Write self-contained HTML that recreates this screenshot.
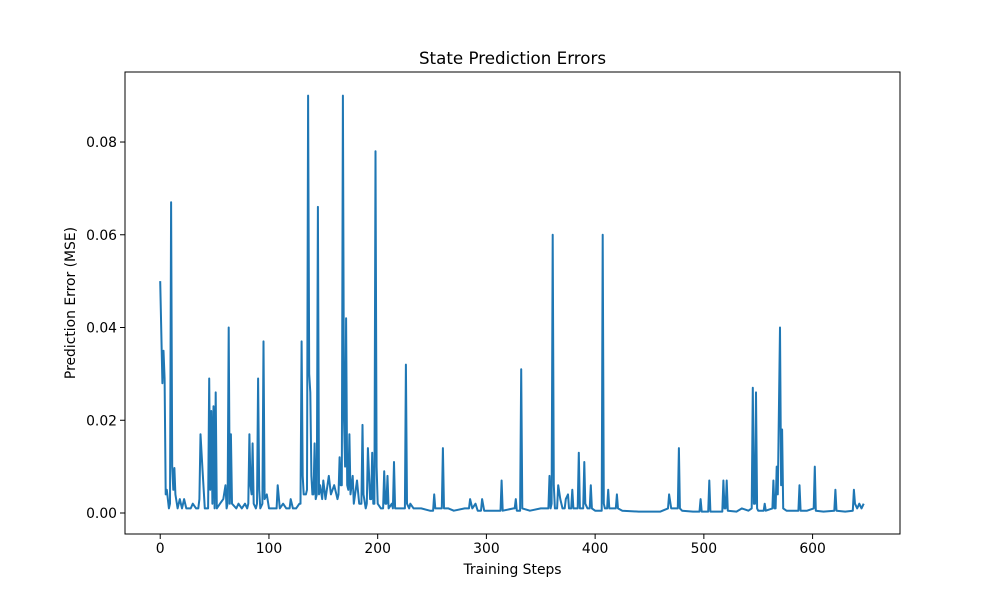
<!DOCTYPE html>
<html><head><meta charset="utf-8"><style>
body{margin:0;background:#fff;}
text{font-family:"DejaVu Sans","Liberation Sans",sans-serif;fill:#000;}
</style></head><body>
<svg id="chart" width="1000" height="600" xmlns="http://www.w3.org/2000/svg">
<rect width="1000" height="600" fill="#fff"/>
<g id="plot"></g>
</svg>
<script>
const steps=[0,2,3,4,5,6,8,9,10,11,12,13,14,16,18,20,22,24,28,30,33,35,36,37,39,41,44,45,46,47,48,49,50,51,52,55,58,60,61,62,63,64,65,66,70,72,75,78,80,81,82,83,84,85,86,88,89,90,91,92,94,95,96,98,100,104,107,108,110,113,116,119,120,122,125,128,129,130,131,132,134,135,136,137,138,139,140,141,142,143,144,145,146,147,149,150,152,155,157,160,163,164,165,166,167,168,169,170,171,172,173,174,175,177,178,181,183,185,186,187,189,190,191,193,194,195,196,197,198,199,200,203,205,206,207,208,209,210,213,214,215,216,218,225,226,227,229,230,233,240,248,251,252,253,257,259,260,261,265,270,280,284,285,287,290,292,295,296,298,310,313,314,315,325,326,327,328,331,332,333,340,350,357,358,359,360,361,362,363,365,366,368,370,372,373,375,376,378,379,380,384,385,386,389,390,391,393,395,396,397,400,406,407,408,409,411,412,413,418,419,420,421,425,440,460,467,468,470,476,477,478,480,490,496,497,498,504,505,506,517,518,519,520,521,522,530,535,541,544,545,546,547,548,549,550,555,556,557,563,564,565,566,567,568,570,571,572,573,576,587,588,589,595,601,602,603,610,620,621,622,630,637,638,639,641,643,645,647];
const errors=[0.050,0.028,0.035,0.029,0.004,0.005,0.001,0.002,0.067,0.010,0.005,0.0097,0.004,0.001,0.003,0.001,0.003,0.001,0.001,0.002,0.001,0.001,0.003,0.017,0.009,0.001,0.001,0.029,0.005,0.022,0.002,0.023,0.001,0.026,0.001,0.002,0.003,0.006,0.001,0.002,0.040,0.002,0.017,0.002,0.001,0.002,0.001,0.002,0.001,0.002,0.017,0.006,0.004,0.015,0.002,0.001,0.002,0.029,0.005,0.001,0.002,0.037,0.003,0.004,0.001,0.001,0.001,0.006,0.001,0.002,0.001,0.001,0.003,0.001,0.001,0.002,0.002,0.037,0.008,0.004,0.004,0.005,0.090,0.030,0.026,0.008,0.004,0.004,0.015,0.003,0.004,0.066,0.004,0.006,0.003,0.007,0.003,0.008,0.004,0.006,0.003,0.004,0.012,0.006,0.006,0.090,0.020,0.010,0.042,0.006,0.005,0.017,0.004,0.008,0.002,0.007,0.002,0.002,0.019,0.004,0.001,0.002,0.014,0.003,0.003,0.013,0.002,0.002,0.078,0.010,0.002,0.001,0.001,0.009,0.002,0.002,0.008,0.001,0.002,0.001,0.011,0.001,0.001,0.001,0.032,0.002,0.001,0.002,0.001,0.001,0.0005,0.0005,0.004,0.001,0.001,0.001,0.014,0.001,0.001,0.0005,0.001,0.001,0.003,0.001,0.002,0.0005,0.0005,0.003,0.0005,0.0005,0.0005,0.007,0.0005,0.001,0.001,0.003,0.0005,0.0005,0.031,0.001,0.0005,0.001,0.001,0.008,0.001,0.002,0.060,0.006,0.001,0.001,0.006,0.003,0.001,0.001,0.003,0.004,0.001,0.001,0.005,0.001,0.001,0.013,0.001,0.001,0.011,0.002,0.001,0.001,0.006,0.001,0.0005,0.0005,0.060,0.002,0.001,0.001,0.005,0.001,0.001,0.001,0.004,0.001,0.0005,0.0003,0.0003,0.001,0.004,0.001,0.001,0.014,0.001,0.0005,0.0003,0.0003,0.003,0.0003,0.0003,0.007,0.0003,0.0003,0.007,0.001,0.001,0.007,0.0005,0.0003,0.001,0.0005,0.001,0.027,0.002,0.002,0.026,0.001,0.0005,0.0005,0.002,0.0005,0.001,0.007,0.001,0.001,0.010,0.004,0.040,0.006,0.018,0.001,0.0005,0.0005,0.006,0.0005,0.0005,0.001,0.010,0.0005,0.0003,0.0005,0.005,0.0005,0.0003,0.0005,0.005,0.002,0.001,0.002,0.001,0.002];
const xTicks=[0,100,200,300,400,500,600];
const yTicks=[0.00,0.02,0.04,0.06,0.08];
const yTickLabels=["0.00","0.02","0.04","0.06","0.08"];

const L=125,R=900,T=72,B=534;
const xMin=-32.4,xMax=680.4,yMin=-0.00453,yMax=0.0951;
const xs=v=>L+(v-xMin)/(xMax-xMin)*(R-L);
const ys=v=>B-(v-yMin)/(yMax-yMin)*(B-T);
const NS="http://www.w3.org/2000/svg";
const g=document.getElementById('plot');
function mk(tag,attrs,parent){const e=document.createElementNS(NS,tag);for(const k in attrs)e.setAttribute(k,attrs[k]);(parent||g).appendChild(e);return e;}

const line=mk('polyline',{points:steps.map((s,i)=>xs(s).toFixed(1)+','+ys(errors[i]).toFixed(1)).join(' '),fill:'none',stroke:'#1f77b4','stroke-width':2,'stroke-linejoin':'round'});



const frame=mk('rect',{x:L,y:T,width:R-L,height:B-T,fill:'none',stroke:'#000','stroke-width':1});



xTicks.forEach(v=>{
  const x=xs(v);
  const t=mk('line',{x1:x,x2:x,y1:B,y2:B+5,stroke:'#000'});
  
  
  const l=mk('text',{x:x,y:B+19,'text-anchor':'middle','font-size':13.9});
  
  
  l.textContent=v;
});
yTicks.forEach((v,i)=>{
  const y=ys(v);
  const t=mk('line',{x1:L-5,x2:L,y1:y,y2:y,stroke:'#000'});
  
  
  const l=mk('text',{x:L-8,y:y+5,'text-anchor':'end','font-size':13.9});
  
  
  l.textContent=yTickLabels[i];
});
const title=mk('text',{x:(L+R)/2,y:64,'text-anchor':'middle','font-size':16.7});


title.textContent='State Prediction Errors';
const xl=mk('text',{x:(L+R)/2,y:574,'text-anchor':'middle','font-size':13.9});


xl.textContent='Training Steps';
const yl=mk('text',{x:0,y:0,'text-anchor':'middle','font-size':13.9,transform:'translate(75,'+((T+B)/2)+') rotate(-90)'});


yl.textContent='Prediction Error (MSE)';
</script>
</body></html>
